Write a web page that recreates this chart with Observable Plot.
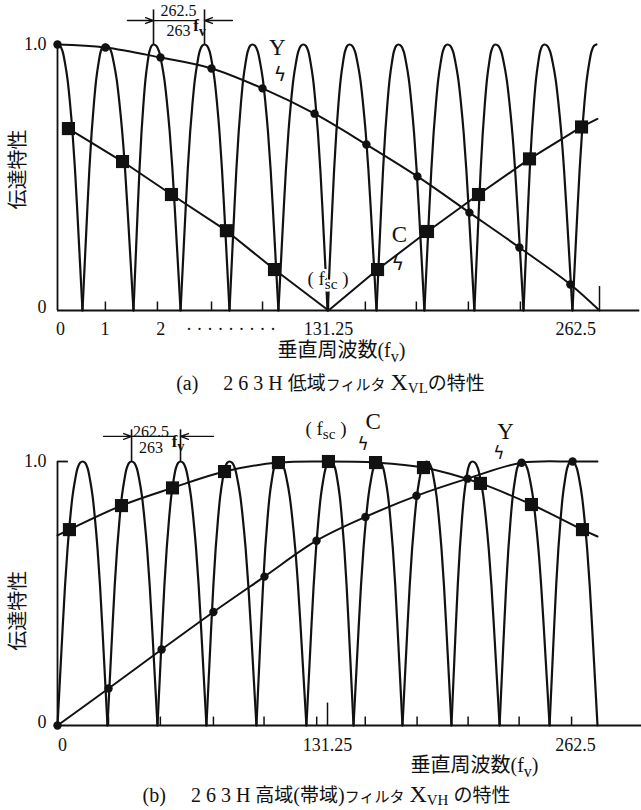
<!DOCTYPE html>
<html><head><meta charset="utf-8">
<script src="https://cdn.jsdelivr.net/npm/d3@7"></script>
<script src="https://cdn.jsdelivr.net/npm/@observablehq/plot@0.6"></script>
<style>
body{margin:0;background:#fff;}
#wrap{width:641px;}
.cap{font-family:'Liberation Serif','Noto Sans CJK JP',serif;font-size:20px;color:#111;white-space:pre;box-sizing:border-box;width:641px;text-align:center;overflow:visible;}
.cap .jp{font-family:'Noto Sans CJK JP',sans-serif;font-size:19px;}
.cap .sm{font-family:'Noto Sans CJK JP',sans-serif;font-size:15px;}
.cap .X{font-size:24px;}
.cap sub{font-size:15px;vertical-align:-3px;line-height:1;}
</style></head><body><div id="wrap"></div>
<script>
// ---------- data ----------
// lobe profile: fraction of the way from a null to a peak -> response
const profileT = [0, 0.1, 0.2, 0.3, 0.4, 0.5, 0.6, 0.7, 0.8, 0.9, 1];
const profileV = [0, 0.18, 0.36, 0.53, 0.67, 0.78, 0.87, 0.93, 0.975, 0.995, 1];

// (a) 263H low-pass filter X_VL
const aPeaks = [0, 23.2, 46.5, 71.2, 94.4, 119.1, 141.4, 165.1, 188.9, 212.1, 235.8, 261];
const aNulls = [12.1, 36.8, 59.6, 83.3, 107, 130.8, 154.5, 177.7, 201.9, 225.7, 249.4];
const aYx = [0, 23.2, 49.9, 74.6, 99.3, 124.5, 149.6, 174.3, 199.5, 223.7, 248.4];
const aYv = [1.0, 0.989, 0.951, 0.91, 0.835, 0.74, 0.624, 0.504, 0.368, 0.237, 0.098];
const aYend = [262.5, 0];
const aCx = [5.3, 31.5, 55.2, 81.8, 105.1, 155.0, 179.2, 203.9, 228.6, 253.8];
const aCv = [0.684, 0.56, 0.436, 0.30, 0.154, 0.154, 0.297, 0.436, 0.57, 0.69];
const aCvertex = [131.25, 0];
const aCend = [261.5, 0.72];
const aTicks = [23.2, 48.4, 74.6, 99.3, 149.1, 173.8, 199, 224.2, 249.4];
const aTallTicks = [131.25, 262.5];
const aTickLabelX = [1.5, 23, 50, 84, 131.25, 251];
const aTickLabels = ["0", "1", "2", "· · · · · · · · ·", "131.25", "262.5"];

// (b) 263H high-pass (band-pass) filter X_VH
const bPeaks = [12.2, 36, 59.8, 83.6, 107.4, 132.7, 156, 179.4, 201.7, 225.6, 249.9];
const bNulls = [0, 24.3, 48.6, 72.4, 96.7, 121, 143.9, 167.7, 191.5, 214.9, 239.2, 262.5];
const bYx = [0, 24.8, 50.6, 75.8, 100.6, 125.9, 149.7, 174.5, 199.3, 225.6, 250.4];
const bYv = [0, 0.14, 0.288, 0.43, 0.564, 0.70, 0.79, 0.87, 0.935, 0.995, 1.0];
const bYend = [262.5, 1.0];
const bCx = [5.8, 31.1, 55.9, 81.2, 107.4, 131.7, 154.6, 177.9, 205.6, 230.4, 255.2];
const bCv = [0.742, 0.833, 0.90, 0.962, 0.996, 1.0, 0.996, 0.977, 0.917, 0.837, 0.742];
const bCstart = [0, 0.72];
const bCend = [262.5, 0.716];
const bTicks = [24.8, 50, 75.8, 100.4, 126, 149.6, 174.8, 199.6, 224.4, 249.9];
const bTallTicks = [131.25];
const bTickLabelX = [2.4, 131.25, 251.8];
const bTickLabels = ["0", "131.25", "262.5"];

const SERIF = "'Liberation Serif','Noto Sans CJK JP',serif";
const JP = "'Noto Sans CJK JP',sans-serif";
const INK = "#111";

// ---------- helpers ----------
function lobes(peaks, nulls) {
  const out = [];
  peaks.forEach((p, i) => {
    const L = nulls.filter(n => n < p).pop();
    const R = nulls.find(n => n > p);
    if (L !== undefined) profileT.forEach((t, k) => out.push({x: L + t * (p - L), y: profileV[k], z: i}));
    else out.push({x: p, y: 1, z: i});
    if (R !== undefined) for (let k = profileT.length - 2; k >= 0; k--) out.push({x: R - profileT[k] * (R - p), y: profileV[k], z: i});
  });
  return out;
}
const pts = (xs, vs) => xs.map((x, i) => ({x, y: vs[i]}));
const byX = arr => arr.sort((a, b) => a.x - b.x);
const T = (x, y, text) => [{x, y, text}];

function subify(root) {
  root.querySelectorAll("text").forEach(el => {
    const s = el.textContent;
    if (!s.includes("_{")) return;
    const fs = parseFloat(getComputedStyle(el).fontSize) || 16;
    el.textContent = "";
    let shifted = false;
    s.split(/(_\{[^}]*\})/).forEach(p => {
      if (!p) return;
      const ts = document.createElementNS("http://www.w3.org/2000/svg", "tspan");
      if (p.startsWith("_{")) {
        ts.textContent = p.slice(2, -1);
        ts.setAttribute("font-size", (fs * 0.8).toFixed(1));
        ts.setAttribute("dy", (fs * 0.25).toFixed(1));
        shifted = true;
      } else {
        ts.textContent = p;
        if (shifted) { ts.setAttribute("dy", (-fs * 0.25).toFixed(1)); shifted = false; }
      }
      el.appendChild(ts);
    });
  });
}

function annotation(p1, p2, yTop, yBar, leftTail, rightTail, fracX, fracTopY, fracBotY, fX, fY) {
  return [
    Plot.ruleX([p1, p2], {y1: 1.0, y2: yTop, stroke: INK, strokeWidth: 1.6}),
    Plot.arrow([{x1: leftTail, x2: p1, y: yBar}], {x1: "x1", x2: "x2", y1: "y", y2: "y", stroke: INK, strokeWidth: 1.4, headLength: 9, headAngle: 40}),
    Plot.arrow([{x1: rightTail, x2: p2, y: yBar}], {x1: "x1", x2: "x2", y1: "y", y2: "y", stroke: INK, strokeWidth: 1.4, headLength: 9, headAngle: 40}),
    Plot.ruleY([yBar], {x1: p1, x2: fX - 1.5, stroke: INK, strokeWidth: 1.2}),
    Plot.text(T(fracX, fracTopY, "262.5"), {x: "x", y: "y", text: "text", fontSize: 16, fontFamily: SERIF, fill: INK}),
    Plot.text(T(fracX, fracBotY, "263"), {x: "x", y: "y", text: "text", fontSize: 16, fontFamily: SERIF, fill: INK}),
    Plot.text(T(fX, fY, "f_{v}"), {x: "x", y: "y", text: "text", fontSize: 17, fontFamily: SERIF, fontWeight: "bold", fill: INK})
  ];
}

function label(x, y, text, opts = {}) {
  return Plot.text(T(x, y, text), {x: "x", y: "y", text: "text", fill: INK, fontFamily: SERIF, fontSize: 17, ...opts});
}

const wrap = document.getElementById("wrap");

// ---------- (a) ----------
const aY = byX(pts(aYx, aYv).concat([{x: aYend[0], y: aYend[1]}]));
const aCsq = pts(aCx, aCv);
const aCline = byX(aCsq.concat([{x: aCvertex[0], y: aCvertex[1]}, {x: aCend[0], y: aCend[1]}]));

const plotA = Plot.plot({
  width: 641, height: 366,
  marginLeft: 57, marginRight: 42, marginTop: 44, marginBottom: 56,
  x: {domain: [0, 262.5], axis: null},
  y: {domain: [0, 1], axis: null},
  style: {background: "white", overflow: "visible", fontFamily: SERIF},
  marks: [
    Plot.ruleX([0], {y1: 0, y2: 1, stroke: INK, strokeWidth: 1.8}),
    Plot.ruleY([0], {x1: 0, x2: 282, stroke: INK, strokeWidth: 2}),
    Plot.ruleX(aTicks, {y1: 0, y2: 0.032, stroke: INK, strokeWidth: 1.5}),
    Plot.ruleX(aTallTicks, {y1: 0, y2: 0.09, stroke: INK, strokeWidth: 1.5}),
    Plot.line(lobes(aPeaks, aNulls), {x: "x", y: "y", z: "z", curve: "catmull-rom", stroke: INK, strokeWidth: 2.2}),
    Plot.line(aY, {x: "x", y: "y", curve: "catmull-rom", stroke: INK, strokeWidth: 2}),
    Plot.line(aCline, {x: "x", y: "y", stroke: INK, strokeWidth: 2}),
    Plot.dot(pts(aYx, aYv), {x: "x", y: "y", r: 4.2, fill: INK, stroke: "none"}),
    Plot.dot(aCsq, {x: "x", y: "y", symbol: "square", r: 7.4, fill: INK, stroke: "none"}),
    Plot.text(aTickLabelX, {x: d => d, y: 0, text: (d, i) => aTickLabels[i], dy: 19, fontSize: 18, fontFamily: SERIF, fill: INK}),
    label(0, 1, "1.0", {dx: -11, textAnchor: "end", fontSize: 18}),
    label(0, 0, "0", {dx: -11, dy: -3, textAnchor: "end", fontSize: 18}),
    label(0, 0.53, "伝達特性", {dx: -39, rotate: -90, fontFamily: JP, fontSize: 20}),
    label(137.5, 0, "垂直周波数(f_{v})", {dy: 40, fontSize: 20}),
    label(106.5, 0.99, "Y", {fontSize: 23}),
    label(107.8, 0.885, "ϟ", {fontSize: 19, fontFamily: "DejaVu Sans"}),
    label(165.6, 0.285, "C", {fontSize: 23}),
    label(164.8, 0.175, "ϟ", {fontSize: 19, fontFamily: "DejaVu Sans"}),
    label(131, 0.12, "( f_{sc} )", {fontSize: 19, stroke: "white", strokeWidth: 5, paintOrder: "stroke"}),
    ...annotation(46.5, 71.2, 1.13, 1.09, 33.9, 84.7, 58.6, 1.125, 1.05, 68.8, 1.07)
  ]
});
wrap.appendChild(plotA);

const capA = document.createElement("div");
capA.className = "cap";
capA.style.height = "32px"; capA.style.lineHeight = "32px"; capA.style.paddingLeft = "20px";
capA.innerHTML = '(a)　 2 6 3 H <span class="jp">低域</span><span class="sm">フィルタ</span> <span class="X">X</span><sub>VL</sub><span class="jp">の特性</span>';
wrap.appendChild(capA);

// ---------- (b) ----------
const bY = byX(pts(bYx, bYv).concat([{x: bYend[0], y: bYend[1]}]));
const bCsq = pts(bCx, bCv);
const bCline = byX(bCsq.concat([{x: bCstart[0], y: bCstart[1]}, {x: bCend[0], y: bCend[1]}]));

const plotB = Plot.plot({
  width: 641, height: 383,
  marginLeft: 57, marginRight: 44, marginTop: 63, marginBottom: 56,
  x: {domain: [0, 262.5], axis: null},
  y: {domain: [0, 1], axis: null},
  style: {background: "white", overflow: "visible", fontFamily: SERIF},
  marks: [
    Plot.ruleX([0], {y1: 0, y2: 1, stroke: INK, strokeWidth: 1.8}),
    Plot.ruleY([1], {x1: 0, x2: 5.3, stroke: INK, strokeWidth: 1.8}),
    Plot.ruleY([0], {x1: 0, x2: 284, stroke: INK, strokeWidth: 2}),
    Plot.ruleX(bTicks, {y1: 0, y2: 0.032, stroke: INK, strokeWidth: 1.5}),
    Plot.ruleX(bTallTicks, {y1: 0, y2: 0.085, stroke: INK, strokeWidth: 1.5}),
    Plot.line(lobes(bPeaks, bNulls), {x: "x", y: "y", z: "z", curve: "catmull-rom", stroke: INK, strokeWidth: 2.2}),
    Plot.line(bY, {x: "x", y: "y", curve: "catmull-rom", stroke: INK, strokeWidth: 2}),
    Plot.line(bCline, {x: "x", y: "y", curve: "catmull-rom", stroke: INK, strokeWidth: 2}),
    Plot.dot(pts(bYx, bYv), {x: "x", y: "y", r: 4.2, fill: INK, stroke: "none"}),
    Plot.dot(bCsq, {x: "x", y: "y", symbol: "square", r: 7.4, fill: INK, stroke: "none"}),
    Plot.text(bTickLabelX, {x: d => d, y: 0, text: (d, i) => bTickLabels[i], dy: 20, fontSize: 18, fontFamily: SERIF, fill: INK}),
    label(0, 1, "1.0", {dx: -11, textAnchor: "end", fontSize: 18}),
    label(0, 0, "0", {dx: -11, dy: -3, textAnchor: "end", fontSize: 18}),
    label(0, 0.435, "伝達特性", {dx: -39, rotate: -90, fontFamily: JP, fontSize: 20}),
    label(202.7, 0, "垂直周波数(f_{v})", {dy: 40, fontSize: 20}),
    label(130.5, 1.125, "( f_{sc} )", {fontSize: 19}),
    label(153.5, 1.15, "C", {fontSize: 23}),
    label(148.5, 1.065, "ϟ", {fontSize: 17, fontFamily: "DejaVu Sans"}),
    label(217.8, 1.115, "Y", {fontSize: 23}),
    label(214.5, 1.03, "ϟ", {fontSize: 17, fontFamily: "DejaVu Sans"}),
    ...annotation(36, 59.8, 1.12, 1.095, 22.4, 75.8, 45.5, 1.114, 1.053, 58.6, 1.076)
  ]
});
wrap.appendChild(plotB);

const capB = document.createElement("div");
capB.className = "cap";
capB.style.height = "29px"; capB.style.lineHeight = "26px"; capB.style.paddingLeft = "12px";
capB.innerHTML = '(b)　 2 6 3 H <span class="jp">高域</span>(<span class="jp">帯域</span>)<span class="sm">フィルタ</span> <span class="X">X</span><sub>VH</sub> <span class="jp">の特性</span>';
wrap.appendChild(capB);

subify(wrap);
</script>
</body></html>
